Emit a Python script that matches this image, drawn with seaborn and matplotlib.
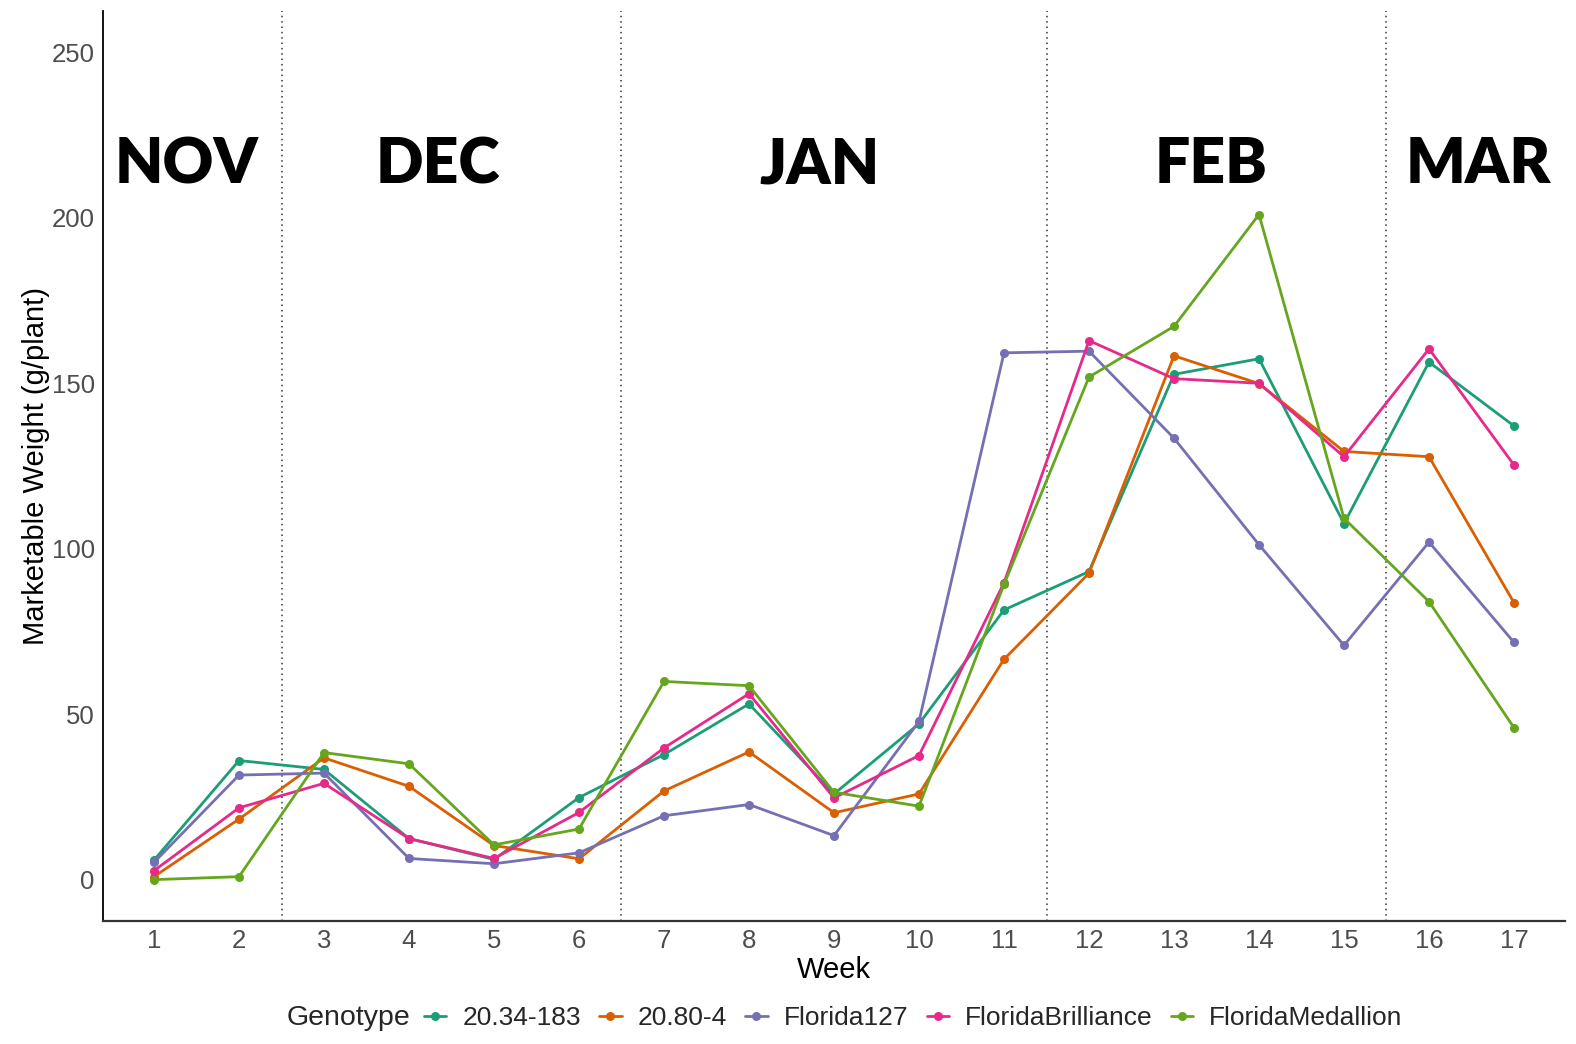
import numpy as np
import pandas as pd
import matplotlib
matplotlib.use("Agg")
import matplotlib.pyplot as plt
from matplotlib.lines import Line2D
import seaborn as sns

weeks = list(range(1, 18))
genotypes = ["20.34-183", "20.80-4", "Florida127", "FloridaBrilliance", "FloridaMedallion"]
colors = ["#1B9E77", "#D95F02", "#7570B3", "#E7298A", "#66A61E"]

g_20_34_183 = [5.9, 36.0, 33.3, 12.4, 6.1, 24.8, 37.8, 53.1, 25.9, 47.1, 81.5, 93.1, 152.7, 157.4, 107.6, 156.4, 137.1]
g_20_80_4 = [0.9, 18.3, 36.8, 28.2, 10.3, 6.3, 26.8, 38.6, 20.2, 25.9, 66.6, 92.6, 158.3, 149.9, 129.4, 127.8, 83.7]
g_florida127 = [5.2, 31.6, 32.2, 6.4, 4.8, 8.1, 19.3, 22.7, 13.3, 47.8, 159.2, 159.7, 133.4, 101.2, 70.8, 102.0, 71.7]
g_brilliance = [2.7, 21.7, 29.1, 12.4, 6.4, 20.3, 39.8, 56.2, 24.7, 37.5, 89.7, 162.9, 151.4, 150.0, 127.8, 160.4, 125.3]
g_medallion = [0.0, 0.9, 38.4, 35.0, 10.5, 15.3, 59.9, 58.6, 26.4, 22.2, 89.2, 151.9, 167.2, 201.0, 109.2, 84.0, 45.9]

months = ["NOV", "DEC", "JAN", "FEB", "MAR"]
month_x = [1.38, 4.34, 8.83, 13.44, 16.58]
month_y = 216
month_breaks = [2.5, 6.5, 11.5, 15.5]
y_ticks = [0, 50, 100, 150, 200, 250]

series = [g_20_34_183, g_20_80_4, g_florida127, g_brilliance, g_medallion]
df = pd.DataFrame({
    "Week": weeks * len(genotypes),
    "Weight": sum(series, []),
    "Genotype": sum([[g] * len(weeks) for g in genotypes], []),
})

sns.set_theme(style="white")
plt.rcParams["font.family"] = ["Liberation Sans", "DejaVu Sans"]

W, H = 1576, 1044
fig = plt.figure(figsize=(W / 100, H / 100), dpi=100)
ax = fig.add_axes([103 / W, 1 - 921 / H, (1565 - 103) / W, (921 - 11) / H])

sns.lineplot(data=df, x="Week", y="Weight", hue="Genotype", hue_order=genotypes,
             palette=colors, marker="o", markersize=6.5, markeredgewidth=0,
             linewidth=2.0, ax=ax, legend=False, errorbar=None)

for xb in month_breaks:
    ax.axvline(xb, color="#333333", linestyle=(0, (1, 2.5)), linewidth=1.1, zorder=0)

for m, mx in zip(months, month_x):
    ax.text(mx, month_y, m, ha="center", va="center", fontsize=45,
            fontweight="heavy", family=["Lato", "DejaVu Sans"], color="black")

ax.set_xlim(0.4, 17.6)
ax.set_ylim(-12.5, 262.5)
ax.set_xticks(weeks)
ax.set_xticklabels([str(w) for w in weeks])
ax.set_yticks(y_ticks)
ax.tick_params(axis="both", labelsize=18.5, colors="#4D4D4D", length=4, width=1, pad=2)
for s in ["top", "right"]:
    ax.spines[s].set_visible(False)
ax.spines["left"].set_color("black")
ax.spines["left"].set_linewidth(1.3)
ax.spines["bottom"].set_color("#333333")
ax.spines["bottom"].set_linewidth(1.6)
ax.set_xlabel("Week", fontsize=21, color="black", labelpad=2)
ax.set_ylabel("Marketable Weight (g/plant)", fontsize=21, color="black", labelpad=1)

handles = [Line2D([0], [0], color=c, lw=2.0, marker="o", markersize=6.5, markeredgewidth=0)
           for c in colors]
fig.text(348 / W, 1 - 1018 / H, "Genotype", ha="center", va="center", fontsize=20.5)
fig.legend(handles, genotypes, loc="center left", bbox_to_anchor=(424 / W, 1 - 1018 / H),
           ncol=5, frameon=False, fontsize=19, handlelength=0.85, handletextpad=0.6,
           columnspacing=0.7, borderaxespad=0, borderpad=0)

fig.savefig("out.png", dpi=100)
